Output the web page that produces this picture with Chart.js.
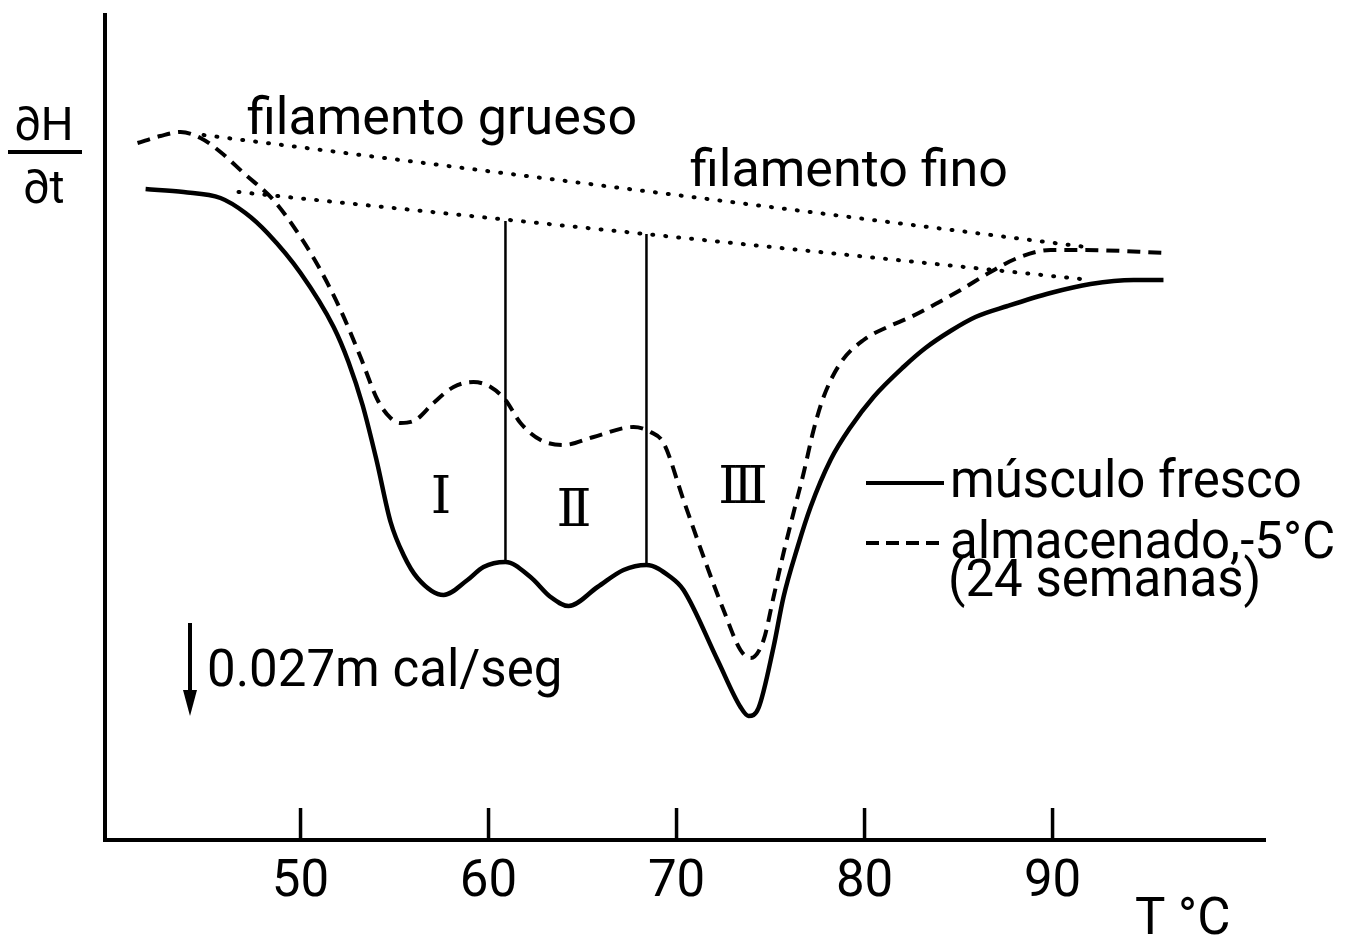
<!DOCTYPE html>
<html>
<head>
<meta charset="utf-8">
<title>Termograma músculo</title>
<script src="https://cdn.jsdelivr.net/npm/chart.js@4.4.1/dist/chart.umd.min.js"></script>
<style>
  html, body { margin: 0; padding: 0; background: #fff; }
  #wrap { width: 1367px; height: 939px; }
</style>
</head>
<body>
<div id="wrap"><canvas id="dsc" width="1367" height="939"></canvas></div>
<script>
// Temperature axis ticks (°C)
const xTicks = [50, 60, 70, 80, 90];

// Fresh muscle trace: temperature (°C) and dH/dt (arbitrary units, 0.1 div)
const tFresh = [41.76, 43.78, 45.74, 47.07, 48.24, 50.00, 51.76, 52.55, 53.30, 54.04,
                54.79, 55.48, 56.22, 57.61, 58.88, 59.73, 60.90, 62.23, 63.30, 64.26,
                65.80, 67.18, 68.40, 69.68, 70.37, 72.18, 73.40, 73.83, 74.36, 75.16,
                75.69, 76.44, 77.13, 78.19, 79.26, 80.48, 82.07, 83.24, 84.57, 85.90,
                87.61, 89.89, 92.02, 94.31, 95.90];
const hFresh = [65.1, 64.8, 64.2, 62.7, 60.7, 56.7, 51.3, 47.8, 43.5, 38.0,
                31.8, 28.5, 26.2, 24.5, 26.0, 27.3, 27.8, 26.3, 24.3, 23.4,
                25.3, 27.0, 27.5, 26.3, 25.0, 18.0, 13.3, 12.4, 13.2, 19.3,
                24.3, 29.3, 33.3, 38.0, 41.3, 44.3, 47.3, 49.2, 50.9, 52.3,
                53.4, 54.7, 55.6, 56.0, 56.0];

// Stored muscle (-5 °C, 24 weeks)
const tStored = [41.33, 42.55, 43.62, 44.68, 45.74, 46.97, 48.56, 50.00, 51.06, 52.13,
                 53.19, 54.10, 54.79, 55.32, 56.12, 57.07, 58.14, 59.20, 60.11, 60.90,
                 61.70, 62.77, 63.99, 65.59, 67.71, 68.62, 69.31, 70.37, 71.44, 72.50,
                 73.40, 73.94, 74.63, 75.16, 75.69, 76.22, 76.76, 77.29, 77.82, 78.72,
                 79.95, 81.22, 82.45, 83.88, 85.11, 86.70, 88.14, 89.89, 91.65, 96.12];
const hStored = [69.7, 70.4, 70.8, 70.2, 68.8, 66.7, 64.0, 60.3, 57.0, 53.0,
                 48.3, 44.0, 42.2, 41.7, 42.0, 43.7, 45.3, 45.8, 45.3, 44.0,
                 41.7, 40.0, 39.5, 40.3, 41.3, 40.8, 39.7, 34.0, 28.3, 23.0,
                 19.0, 18.2, 20.0, 24.3, 28.7, 32.7, 36.7, 41.0, 44.3, 47.7,
                 50.0, 51.3, 52.3, 53.7, 55.0, 56.8, 58.2, 59.0, 59.0, 58.7];

// Baselines for thick and thin filament transitions
const tThick = [44.84, 91.76];
const hThick = [70.5, 59.3];
const tThin = [46.70, 92.02];
const hThin = [64.8, 56.0];

// Zone separators I/II and II/III
const tSplit1 = [60.90, 60.90];
const hSplit1 = [61.9, 27.8];
const tSplit2 = [68.40, 68.40];
const hSplit2 = [60.6, 27.5];

const pts = (xs, ys) => xs.map((v, i) => ({ x: v, y: ys[i] }));

const FONT = 'Roboto, "DejaVu Sans", sans-serif';

// Axis tick marks, labels and legend drawn on top of the plot
const figureText = {
  id: 'figureText',
  afterDraw(chart) {
    const { ctx, chartArea, scales: { x } } = chart;
    ctx.save();
    ctx.strokeStyle = '#000';
    ctx.fillStyle = '#000';

    // inward tick marks
    ctx.lineWidth = 3.5;
    xTicks.forEach(v => {
      const px = x.getPixelForValue(v);
      ctx.beginPath();
      ctx.moveTo(px, chartArea.bottom);
      ctx.lineTo(px, chartArea.bottom - 32);
      ctx.stroke();
    });

    // dH/dt label
    ctx.textAlign = 'center';
    ctx.textBaseline = 'alphabetic';
    ctx.font = '46px ' + FONT;
    ctx.fillText('∂H', 44, 140);
    ctx.fillText('∂t', 44, 203);
    ctx.lineWidth = 4;
    ctx.beginPath();
    ctx.moveTo(8, 152);
    ctx.lineTo(82, 152);
    ctx.stroke();

    // baseline labels
    ctx.textAlign = 'left';
    ctx.font = '52px ' + FONT;
    ctx.fillText('filamento grueso', 247, 134);
    ctx.fillText('filamento fino', 690, 186);

    // legend
    ctx.lineWidth = 4;
    ctx.beginPath();
    ctx.moveTo(866, 483);
    ctx.lineTo(944, 483);
    ctx.stroke();
    ctx.setLineDash([13, 7]);
    ctx.beginPath();
    ctx.moveTo(866, 543);
    ctx.lineTo(944, 543);
    ctx.stroke();
    ctx.setLineDash([]);
    ctx.font = '51px ' + FONT;
    ctx.fillText('músculo fresco', 950, 497);
    ctx.fillText('almacenado,-5°C', 950, 558);
    ctx.fillText('(24 semanas)', 948, 596);

    // scale arrow
    ctx.lineWidth = 4;
    ctx.beginPath();
    ctx.moveTo(190, 623);
    ctx.lineTo(190, 696);
    ctx.stroke();
    ctx.beginPath();
    ctx.moveTo(183, 690);
    ctx.lineTo(197, 690);
    ctx.lineTo(190, 716);
    ctx.closePath();
    ctx.fill();
    ctx.fillText('0.027m cal/seg', 207, 686);

    // axis title
    ctx.fillText('T °C', 1135, 934);

    // zone numerals, serifs run together
    ctx.textAlign = 'center';
    ctx.textBaseline = 'middle';
    ctx.font = '52px "DejaVu Serif", serif';
    ctx.letterSpacing = '-6px';
    ctx.fillText('I', 438, 499);
    ctx.fillText('II', 571, 512);
    ctx.fillText('III', 740, 489);
    ctx.restore();
  }
};

new Chart(document.getElementById('dsc'), {
  type: 'line',
  data: {
    datasets: [
      {
        label: 'músculo fresco',
        data: pts(tFresh, hFresh),
        borderColor: '#000',
        borderWidth: 4.5,
        cubicInterpolationMode: 'monotone'
      },
      {
        label: 'almacenado, -5°C (24 semanas)',
        data: pts(tStored, hStored),
        borderColor: '#000',
        borderWidth: 4,
        borderDash: [13, 8],
        cubicInterpolationMode: 'monotone'
      },
      {
        label: 'filamento grueso',
        data: pts(tThick, hThick),
        borderColor: '#000',
        borderWidth: 4,
        borderDash: [1, 12],
        borderCapStyle: 'round'
      },
      {
        label: 'filamento fino',
        data: pts(tThin, hThin),
        borderColor: '#000',
        borderWidth: 4,
        borderDash: [1, 12],
        borderCapStyle: 'round'
      },
      {
        label: 'I/II',
        data: pts(tSplit1, hSplit1),
        borderColor: '#000',
        borderWidth: 2.5
      },
      {
        label: 'II/III',
        data: pts(tSplit2, hSplit2),
        borderColor: '#000',
        borderWidth: 2.5
      }
    ]
  },
  options: {
    responsive: false,
    animation: false,
    devicePixelRatio: 1,
    elements: { point: { radius: 0 }, line: { fill: false } },
    layout: { padding: { left: 105, right: 102, top: 15, bottom: 0 } },
    plugins: { legend: { display: false }, tooltip: { enabled: false } },
    scales: {
      x: {
        type: 'linear',
        min: 39.6,
        max: 101.3,
        afterFit: s => { s.height = 99; },
        afterBuildTicks: s => { s.ticks = xTicks.map(v => ({ value: v })); },
        grid: { display: false },
        border: { display: true, color: '#000', width: 4 },
        ticks: {
          color: '#000',
          padding: 5,
          font: { family: FONT, size: 51 },
          maxRotation: 0
        }
      },
      y: {
        min: 0,
        max: 82.5,
        afterFit: s => { s.width = 0; },
        grid: { display: false },
        border: { display: true, color: '#000', width: 4 },
        ticks: { display: false }
      }
    }
  },
  plugins: [figureText]
});
</script>
</body>
</html>
